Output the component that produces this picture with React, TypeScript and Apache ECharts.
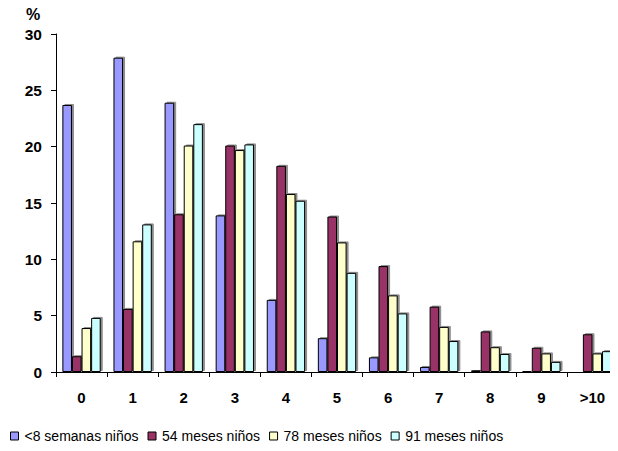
import React, { useEffect, useRef } from "react";
import * as echarts from "echarts";

const categories = ["0", "1", "2", "3", "4", "5", "6", "7", "8", "9", ">10"];
const seriesNames = ["<8 semanas niños", "54 meses niños", "78 meses niños", "91 meses niños"];
const weeks8 = [23.7, 27.9, 23.9, 13.9, 6.4, 3.0, 1.3, 0.45, 0.15, 0.1, 0];
const months54 = [1.4, 5.6, 14.0, 20.1, 18.3, 13.8, 9.4, 5.8, 3.6, 2.15, 3.35];
const months78 = [3.9, 11.6, 20.1, 19.7, 15.8, 11.5, 6.8, 4.0, 2.2, 1.65, 1.65];
const months91 = [4.8, 13.1, 22.0, 20.2, 15.2, 8.8, 5.2, 2.75, 1.6, 0.9, 1.85];
const colors = ["#9999FF", "#993366", "#FFFFCC", "#CCFFFF"];

const FONT = "'Liberation Sans', Arial, sans-serif";

export default function App() {
  const ref = useRef<HTMLDivElement>(null);

  useEffect(() => {
    if (!ref.current) return;
    const chart = echarts.init(ref.current, null, { renderer: "svg" });
    const values = [weeks8, months54, months78, months91];
    chart.setOption({
      animation: false,
      backgroundColor: "#ffffff",
      grid: { left: 56, right: -7, top: 34, bottom: 79, containLabel: false },
      legend: {
        left: 5,
        top: 424,
        icon: "rect",
        itemWidth: 8,
        itemHeight: 8,
        itemGap: 9,
        textStyle: { fontFamily: FONT, fontSize: 14, color: "#000", padding: [0, 0, 0, 1] },
        itemStyle: { borderColor: "#000", borderWidth: 1 },
        data: seriesNames,
      },
      graphic: [
        {
          type: "text",
          left: 26,
          top: 6,
          style: { text: "%", font: `bold 16px ${FONT}`, fill: "#000" },
        },
      ],
      xAxis: {
        type: "category",
        data: categories,
        axisLine: { lineStyle: { color: "#000", width: 1 } },
        axisTick: { show: true, length: 5, lineStyle: { color: "#000" } },
        axisLabel: {
          margin: 18,
          fontFamily: FONT,
          fontSize: 15,
          fontWeight: "bold",
          color: "#000",
        },
      },
      yAxis: {
        type: "value",
        min: 0,
        max: 30,
        interval: 5,
        splitLine: { show: false },
        axisLine: { show: true, lineStyle: { color: "#000", width: 1 } },
        axisTick: { show: true, length: 5, lineStyle: { color: "#000" } },
        axisLabel: {
          margin: 14,
          fontFamily: FONT,
          fontSize: 15.5,
          fontWeight: "bold",
          color: "#000",
        },
      },
      series: values.map((data, i) => ({
        name: seriesNames[i],
        type: "bar",
        data,
        barGap: "0%",
        barCategoryGap: "25%",
        itemStyle: {
          color: colors[i],
          borderColor: "#000",
          borderWidth: 1,
          shadowColor: "rgba(0,0,0,0.45)",
          shadowOffsetX: 2,
          shadowOffsetY: -1,
          shadowBlur: 0,
        },
      })),
    });
    return () => chart.dispose();
  }, []);

  return <div ref={ref} style={{ width: 618, height: 451, margin: -8 }} />;
}
